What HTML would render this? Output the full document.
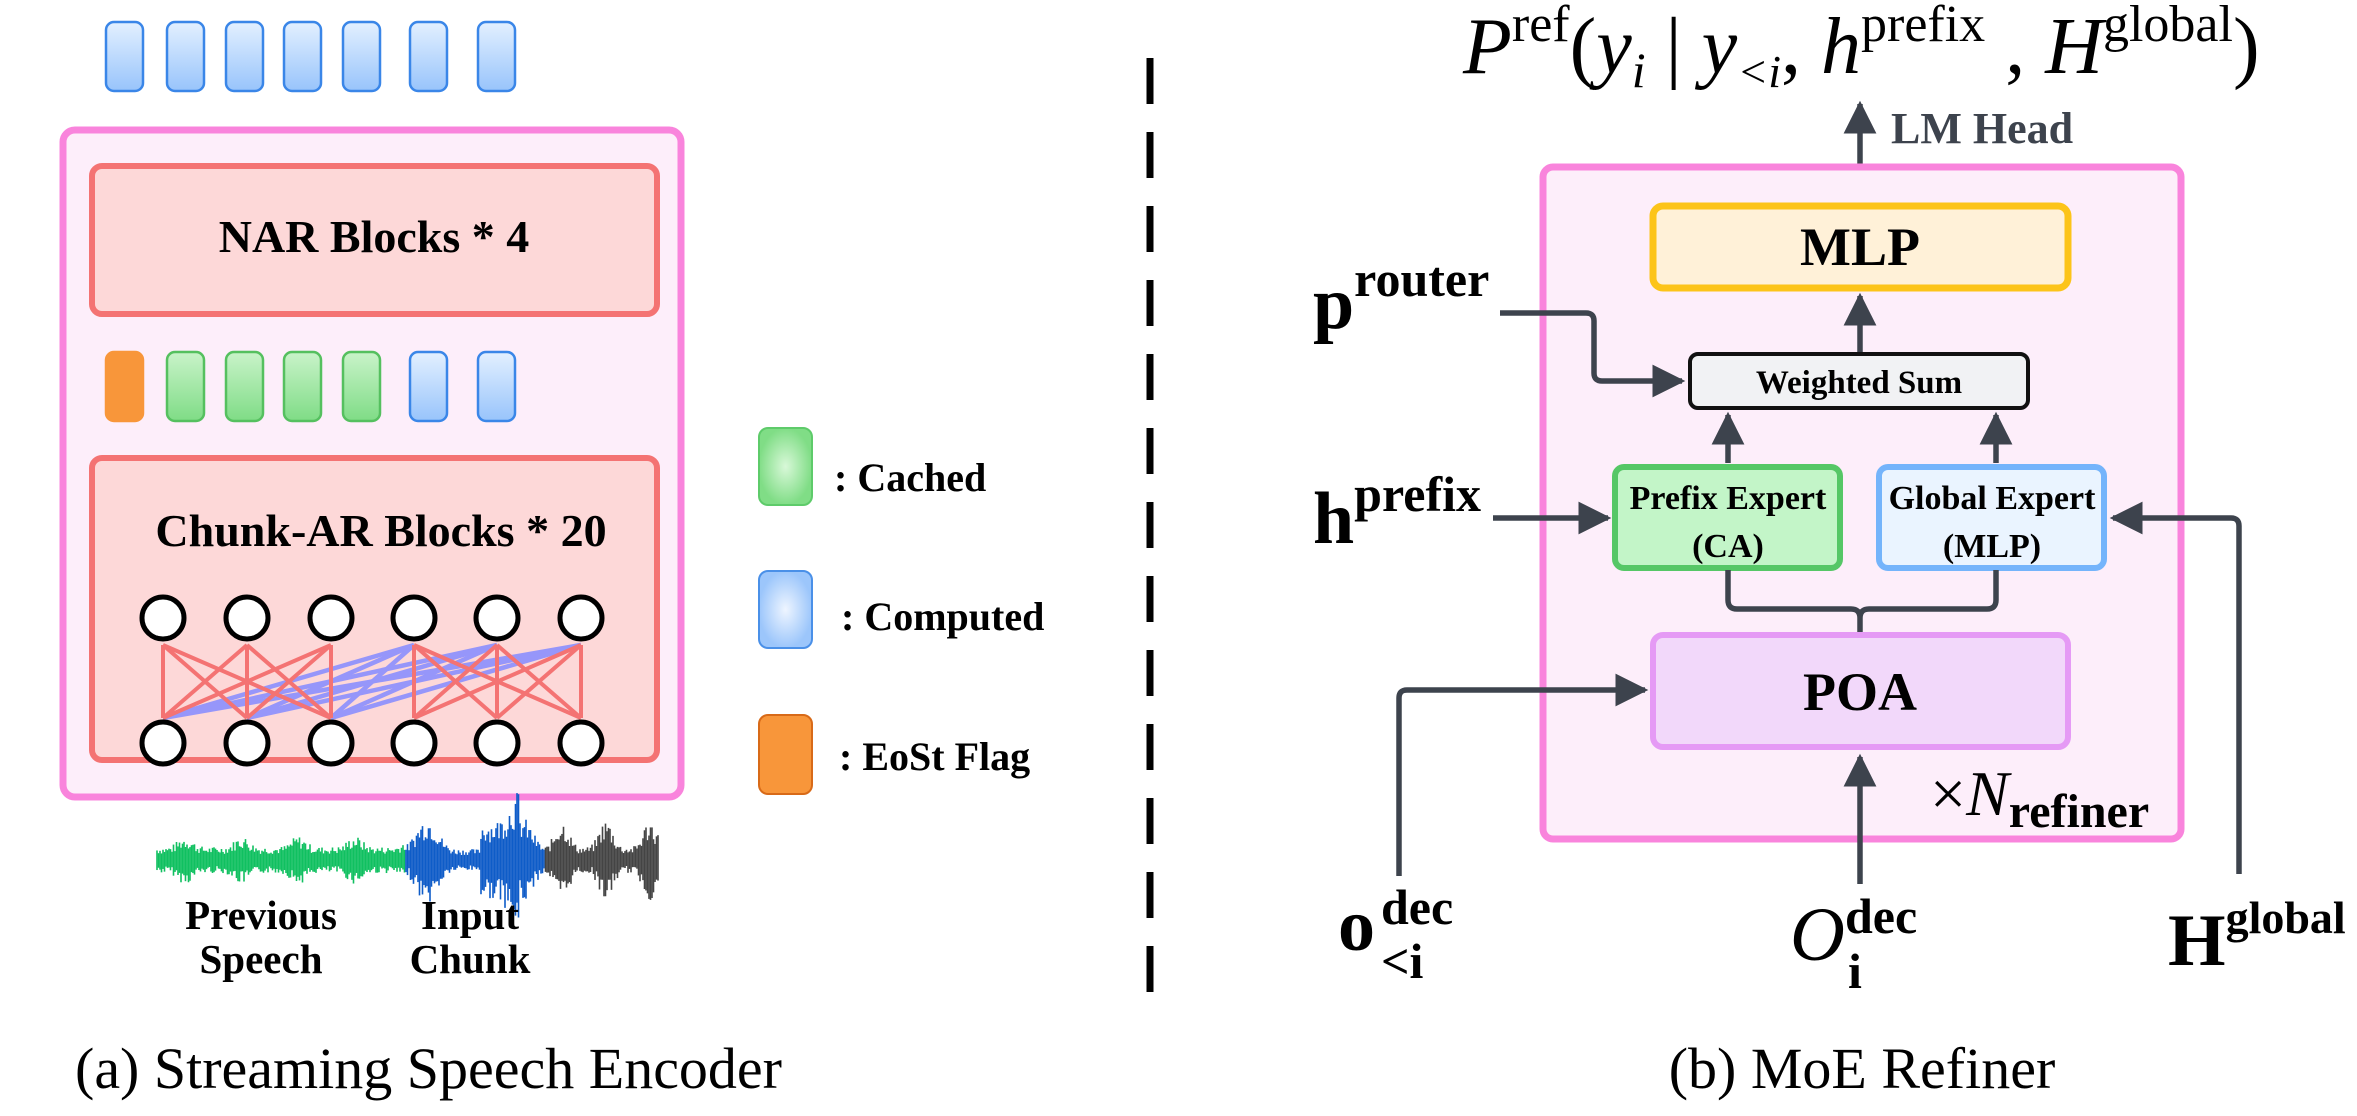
<!DOCTYPE html>
<html><head><meta charset="utf-8"><style>
html,body{margin:0;padding:0;background:#fff;}
svg{display:block;}
text{font-family:"Liberation Serif",serif;}
.b{font-weight:bold;}
</style></head><body>
<svg id="s" width="2357" height="1116" viewBox="0 0 2357 1116" xmlns="http://www.w3.org/2000/svg">
<defs>
<linearGradient id="gb" x1="0" y1="0" x2="0" y2="1"><stop offset="0" stop-color="#e3f0ff"/><stop offset="1" stop-color="#98c4fb"/></linearGradient>
<linearGradient id="gg" x1="0" y1="0" x2="0" y2="1"><stop offset="0" stop-color="#c9f3c9"/><stop offset="1" stop-color="#7fdc86"/></linearGradient>
<radialGradient id="rb"><stop offset="0" stop-color="#eef5ff"/><stop offset="1" stop-color="#9cc6fb"/></radialGradient>
<radialGradient id="rg"><stop offset="0" stop-color="#d8f8d8"/><stop offset="1" stop-color="#80dd86"/></radialGradient>
<marker id="ar" viewBox="0 0 10 10" refX="9" refY="5" markerWidth="6" markerHeight="6" orient="auto" markerUnits="strokeWidth"><path d="M0,0 L10,5 L0,10 z" fill="#3d434d"/></marker>
</defs>

<!-- LEFT PANEL -->
<g id="toptok"></g>
<rect x="63" y="130" width="618" height="667" rx="12" fill="#fdeefa" stroke="#f984dc" stroke-width="7"/>
<rect x="92" y="166" width="565" height="148" rx="10" fill="#fdd8d8" stroke="#f47373" stroke-width="6"/>
<text x="374" y="252" text-anchor="middle" class="b" font-size="46">NAR Blocks * 4</text>
<g id="midtok"></g>
<rect x="92" y="458" width="565" height="302" rx="10" fill="#fdd8d8" stroke="#f47373" stroke-width="6"/>
<text x="381" y="546" text-anchor="middle" class="b" font-size="46">Chunk-AR Blocks * 20</text>
<g id="net"></g>
<g id="wave"></g>
<text x="261" y="929" text-anchor="middle" class="b" font-size="41">Previous</text>
<text x="261" y="973" text-anchor="middle" class="b" font-size="41">Speech</text>
<text x="470" y="929" text-anchor="middle" class="b" font-size="41">Input</text>
<text x="470" y="973" text-anchor="middle" class="b" font-size="41">Chunk</text>

<rect x="759" y="428" width="53" height="77" rx="9" fill="url(#rg)" stroke="#5ecb6a" stroke-width="2"/>
<text x="834" y="491" class="b" font-size="40">: Cached</text>
<rect x="759" y="571" width="53" height="77" rx="9" fill="url(#rb)" stroke="#4a90e8" stroke-width="2"/>
<text x="841" y="630" class="b" font-size="40">: Computed</text>
<rect x="759" y="715" width="53" height="79" rx="9" fill="#f8963a" stroke="#d86a18" stroke-width="2"/>
<text x="839" y="770" class="b" font-size="40">: EoSt Flag</text>

<text x="75" y="1088" font-size="58">(a) Streaming Speech Encoder</text>

<!-- dashed divider -->
<line x1="1150" y1="58" x2="1150" y2="995" stroke="#000" stroke-width="7" stroke-dasharray="46,28"/>

<!-- RIGHT PANEL -->
<text x="1463" y="73" font-size="80" font-style="italic">P<tspan font-style="normal" font-size="52" dy="-32">ref</tspan><tspan font-style="normal" dy="32">(</tspan>y<tspan font-size="50" dy="14">i</tspan><tspan font-style="normal" dy="-14"> | </tspan>y<tspan font-size="46" dy="14">&lt;i</tspan><tspan font-style="normal" dy="-14">, </tspan>h<tspan font-style="normal" font-size="52" dy="-32">prefix</tspan><tspan font-style="normal" dy="32"> , </tspan>H<tspan font-style="normal" font-size="52" dy="-32">global</tspan><tspan font-style="normal" dy="32">)</tspan></text>

<line x1="1860" y1="200" x2="1860" y2="104" stroke="#3d434d" stroke-width="5.5" marker-end="url(#ar)"/>
<text x="1891" y="143" class="b" font-size="44" fill="#3d434d">LM Head</text>

<rect x="1543" y="167" width="638" height="672" rx="10" fill="#fdeefa" stroke="#f984dc" stroke-width="7"/>

<rect x="1653" y="206" width="415" height="82" rx="10" fill="#fff1d8" stroke="#fcc419" stroke-width="7"/>
<text x="1860" y="265" text-anchor="middle" class="b" font-size="54">MLP</text>
<line x1="1860" y1="352" x2="1860" y2="296" stroke="#3d434d" stroke-width="5.5" marker-end="url(#ar)"/>

<rect x="1690" y="354" width="338" height="54" rx="8" fill="#f1f2f4" stroke="#111" stroke-width="4"/>
<text x="1859" y="393" text-anchor="middle" class="b" font-size="33">Weighted Sum</text>

<line x1="1728" y1="463" x2="1728" y2="415" stroke="#3d434d" stroke-width="5.5" marker-end="url(#ar)"/>
<line x1="1996" y1="463" x2="1996" y2="415" stroke="#3d434d" stroke-width="5.5" marker-end="url(#ar)"/>

<rect x="1615" y="467" width="225" height="101" rx="9" fill="#c3f5c8" stroke="#55c766" stroke-width="6"/>
<text x="1728" y="509" text-anchor="middle" class="b" font-size="34">Prefix Expert</text>
<text x="1728" y="557" text-anchor="middle" class="b" font-size="34">(CA)</text>
<rect x="1879" y="467" width="225" height="101" rx="9" fill="#eaf4ff" stroke="#74b4fb" stroke-width="6"/>
<text x="1992" y="509" text-anchor="middle" class="b" font-size="34">Global Expert</text>
<text x="1992" y="557" text-anchor="middle" class="b" font-size="34">(MLP)</text>

<path d="M1728,570 V600 Q1728,609 1737,609 H1851 Q1860,609 1860,618 V634 M1996,570 V600 Q1996,609 1987,609 H1869 Q1860,609 1860,618" fill="none" stroke="#3d434d" stroke-width="5.5"/>

<rect x="1653" y="635" width="415" height="112" rx="10" fill="#f2d8fa" stroke="#e59af5" stroke-width="6"/>
<text x="1860" y="710" text-anchor="middle" class="b" font-size="54">POA</text>

<line x1="1860" y1="884" x2="1860" y2="757" stroke="#3d434d" stroke-width="5.5" marker-end="url(#ar)"/>

<text x="1930" y="815" font-size="64">×<tspan font-style="italic">N</tspan><tspan class="b" font-size="48" dy="12">refiner</tspan></text>

<!-- p router -->
<text x="1313" y="328" class="b" font-size="74">p<tspan font-size="50" dy="-32">router</tspan></text>
<path d="M1500,313 H1586 Q1594,313 1594,321 V373 Q1594,381 1602,381 H1682" fill="none" stroke="#3d434d" stroke-width="5.5" marker-end="url(#ar)"/>
<!-- h prefix -->
<text x="1313" y="543" class="b" font-size="74">h<tspan font-size="50" dy="-32">prefix</tspan></text>
<line x1="1493" y1="518" x2="1608" y2="518" stroke="#3d434d" stroke-width="5.5" marker-end="url(#ar)"/>
<!-- o dec -->
<path d="M1399,876 V698 Q1399,690 1407,690 H1645" fill="none" stroke="#3d434d" stroke-width="5.5" marker-end="url(#ar)"/>
<text x="1338" y="950" class="b" font-size="74">o</text>
<text x="1381" y="924" class="b" font-size="50">dec</text>
<text x="1381" y="978" class="b" font-size="50">&lt;i</text>
<!-- O dec -->
<text x="1790" y="960" font-size="76" font-style="italic">O</text>
<text x="1845" y="933" class="b" font-size="50">dec</text>
<text x="1848" y="988" class="b" font-size="50">i</text>
<!-- H global -->
<path d="M2239,874 V526 Q2239,518 2231,518 H2113" fill="none" stroke="#3d434d" stroke-width="5.5" marker-end="url(#ar)"/>
<text x="2168" y="965" class="b" font-size="74">H<tspan font-size="46" dy="-32">global</tspan></text>

<text x="1862" y="1088" text-anchor="middle" font-size="58">(b) MoE Refiner</text>
</svg>
<script>
(function(){
var NS="http://www.w3.org/2000/svg";
function el(p,t,a){var e=document.createElementNS(NS,t);for(var k in a)e.setAttribute(k,a[k]);document.getElementById(p).appendChild(e);return e;}
var xs=[106,167,226,284,343,410,478];
xs.forEach(function(x){el("toptok","rect",{x:x,y:22,width:37,height:69,rx:8,fill:"url(#gb)",stroke:"#3a86e8","stroke-width":2.5});});
xs.forEach(function(x,i){
 var f,s;
 if(i==0){f="#f8963a";s="#f8963a";}else if(i<5){f="url(#gg)";s="#55c05f";}else{f="url(#gb)";s="#3a86e8";}
 el("midtok","rect",{x:x,y:352,width:37,height:69,rx:8,fill:f,stroke:s,"stroke-width":2.5});
});
var cx=[163,247,331,414,497,581],ty=618,by=743,y1=645,y2=718;
for(var a=3;a<6;a++)for(var b=0;b<3;b++)el("net","line",{x1:cx[a],y1:y1,x2:cx[b],y2:y2,stroke:"#9696fa","stroke-width":4.5});
[[0,1,2],[3,4,5]].forEach(function(g){g.forEach(function(a){g.forEach(function(b){el("net","line",{x1:cx[a],y1:y1,x2:cx[b],y2:y2,stroke:"#f47373","stroke-width":4});});});});
cx.forEach(function(x){el("net","circle",{cx:x,cy:ty,r:21,fill:"#fff",stroke:"#000","stroke-width":5});el("net","circle",{cx:x,cy:by,r:21,fill:"#fff",stroke:"#000","stroke-width":5});});
var seed=7;function rnd(){seed=(seed*9301+49297)%233280;return seed/233280;}
for(var x=157;x<659;x+=1.5){
 var c=x<405?"#10c060":(x<545?"#0e5cc8":"#444");
 var env;
 if(x<405)env=8+10*Math.pow(Math.abs(Math.sin((x-157)/18)),6)+4;
 else if(x<545)env=10+30*Math.pow(Math.abs(Math.sin((x-380)/30)),8)+(x>480&&x<520?25:0);
 else env=12+25*Math.pow(Math.abs(Math.sin((x-540)/14)),4);
 var up=env*(0.5+0.6*rnd()),dn=env*(0.5+0.6*rnd());
 el("wave","line",{x1:x,y1:860-up,x2:x,y2:860+dn,stroke:c,"stroke-width":1.6});
}
})();
</script>
</body></html>
